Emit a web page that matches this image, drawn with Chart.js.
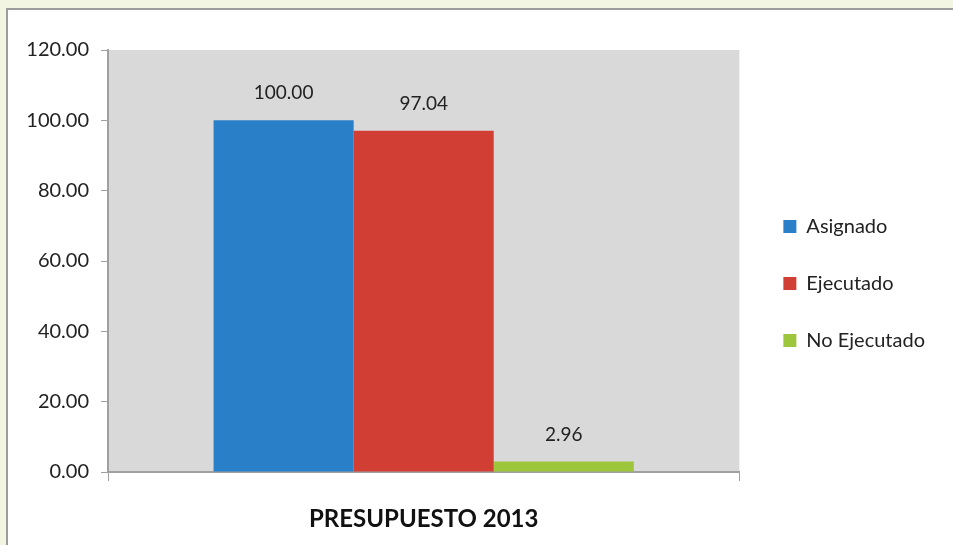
<!DOCTYPE html>
<html>
<head>
<meta charset="utf-8">
<script src="https://cdn.jsdelivr.net/npm/chart.js@4"></script>
<style>
  html, body { margin:0; padding:0; }
  body { width:953px; height:545px; background:#f1f5e1; position:relative; overflow:hidden; }
  #frame { position:absolute; left:6px; top:8px; right:-20px; bottom:-20px; background:#fff;
           border-left:2px solid #9c9c9c; border-top:2px solid #9c9c9c; }
  #wrap { position:absolute; left:0; top:0; width:953px; height:545px; }
</style>
</head>
<body>
<div id="frame"></div>
<div id="wrap"><canvas id="chart" width="953" height="545"></canvas></div>
<script>
const categories = ['PRESUPUESTO 2013'];
const seriesNames = ['Asignado', 'Ejecutado', 'No Ejecutado'];
const asignado = [100.00];
const ejecutado = [97.04];
const noEjecutado = [2.96];
const yTicks = [0, 20, 40, 60, 80, 100, 120];
const colors = ['#2a7fc9', '#d13f34', '#9dc63c'];

const FONT = 'Lato, "Open Sans", sans-serif';

// grey plot background
const plotBg = {
  id:'plotBg',
  beforeDraw(chart){
    const {ctx, chartArea:a} = chart;
    ctx.save();
    ctx.fillStyle = '#d9d9d9';
    ctx.fillRect(a.left, a.top, a.right - a.left, a.bottom - a.top);
    ctx.restore();
  }
};

// value labels above bars
const valueLabels = {
  id:'valueLabels',
  afterDatasetsDraw(chart){
    const ctx = chart.ctx;
    ctx.save();
    ctx.font = '19px ' + FONT;
    ctx.fillStyle = '#222';
    ctx.textAlign = 'center';
    ctx.textBaseline = 'middle';
    chart.data.datasets.forEach((ds, i) => {
      chart.getDatasetMeta(i).data.forEach((bar, j) => {
        ctx.fillText(ds.data[j].toFixed(2), bar.x, bar.y - 27);
      });
    });
    ctx.restore();
  }
};

// nudge the legend a bit right and up, like the original
const legendShift = {
  id:'legendShift',
  afterLayout(chart){
    const lg = chart.legend;
    if (!lg) return;
    lg.left += 7; lg.right += 7;
    lg.top -= 14; lg.bottom -= 14;
  }
};

const ctx = document.getElementById('chart').getContext('2d');
new Chart(ctx, {
  type:'bar',
  data:{
    labels: categories,
    datasets:[
      { label:seriesNames[0], data:asignado, backgroundColor:colors[0], borderColor:colors[0], borderWidth:0 },
      { label:seriesNames[1], data:ejecutado, backgroundColor:colors[1], borderColor:colors[1], borderWidth:0 },
      { label:seriesNames[2], data:noEjecutado, backgroundColor:colors[2], borderColor:colors[2], borderWidth:0 }
    ]
  },
  options:{
    responsive:false,
    animation:false,
    layout:{ padding:{ left:0, top:50, right:25, bottom:0 } },
    datasets:{ bar:{ categoryPercentage:0.6656, barPercentage:1.0 } },
    plugins:{
      legend:{
        position:'right',
        labels:{ boxWidth:13, boxHeight:13, padding:37, color:'#222', font:{ family:FONT, size:20 } }
      },
      tooltip:{ enabled:false }
    },
    scales:{
      x:{
        afterFit(s){ s.height = 73; },
        grid:{ drawOnChartArea:false, drawTicks:true, tickLength:9, color:'#a0a0a0', offset:true },
        border:{ display:true, color:'#a0a0a0', width:2 },
        ticks:{ padding:24, color:'#111', font:{ family:FONT, size:24, weight:'bold' } }
      },
      y:{
        min:0, max:120,
        afterFit(s){ s.width = 108; },
        afterBuildTicks(s){ s.ticks = yTicks.map(v => ({ value:v })); },
        grid:{ drawOnChartArea:false, drawTicks:true, tickLength:7, color:'#a0a0a0' },
        border:{ display:true, color:'#a0a0a0', width:2 },
        ticks:{ padding:12, color:'#222', font:{ family:FONT, size:20 }, callback:v => Number(v).toFixed(2) }
      }
    }
  },
  plugins:[plotBg, valueLabels, legendShift]
});
</script>
</body>
</html>
